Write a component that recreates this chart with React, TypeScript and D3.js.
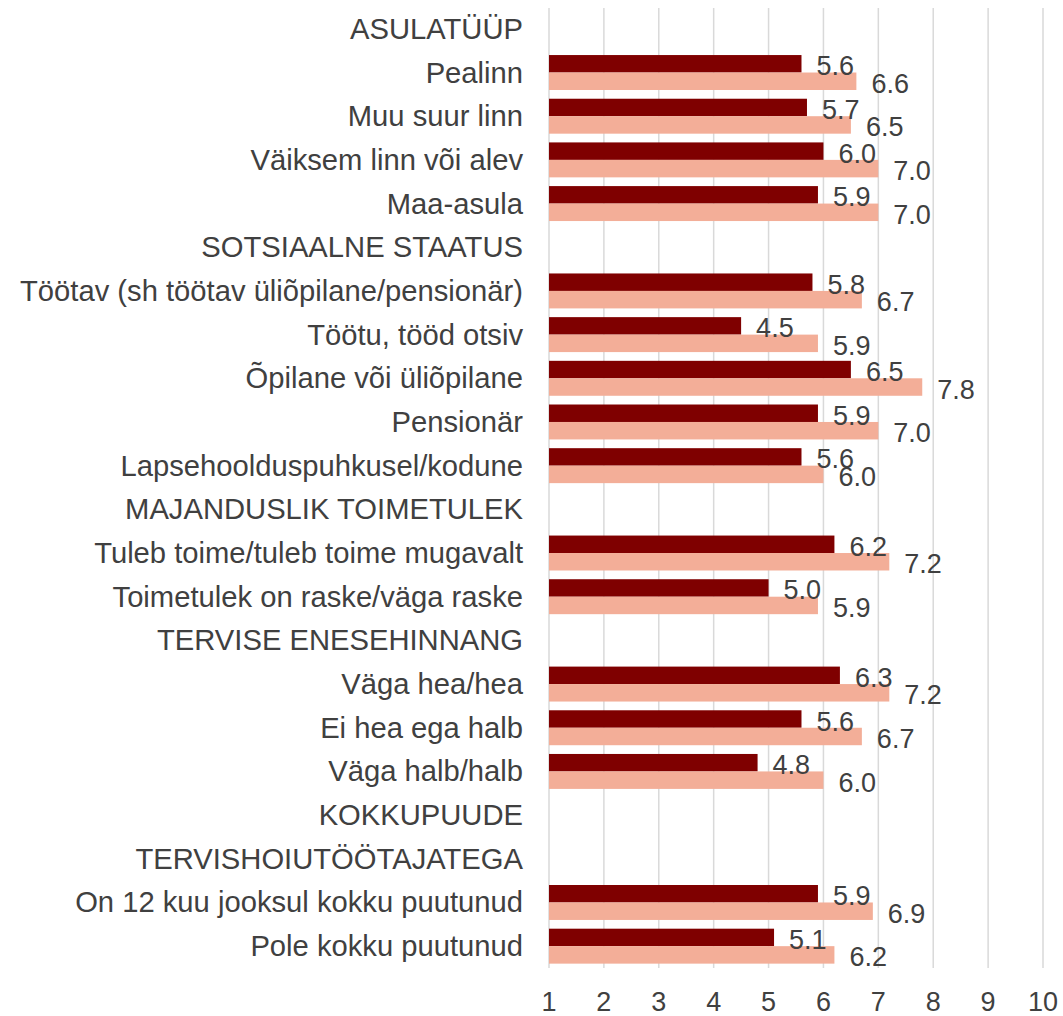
import { useEffect, useRef } from 'react';
import * as d3 from 'd3';

// row labels; header rows have no values
const categories = [
  'ASULATÜÜP',
  'Pealinn',
  'Muu suur linn',
  'Väiksem linn või alev',
  'Maa-asula',
  'SOTSIAALNE STAATUS',
  'Töötav (sh töötav üliõpilane/pensionär)',
  'Töötu, tööd otsiv',
  'Õpilane või üliõpilane',
  'Pensionär',
  'Lapsehoolduspuhkusel/kodune',
  'MAJANDUSLIK TOIMETULEK',
  'Tuleb toime/tuleb toime mugavalt',
  'Toimetulek on raske/väga raske',
  'TERVISE ENESEHINNANG',
  'Väga hea/hea',
  'Ei hea ega halb',
  'Väga halb/halb',
  'KOKKUPUUDE',
  'TERVISHOIUTÖÖTAJATEGA',
  'On 12 kuu jooksul kokku puutunud',
  'Pole kokku puutunud',
];

const seriesA = [null, 5.6, 5.7, 6.0, 5.9, null, 5.8, 4.5, 6.5, 5.9, 5.6, null, 6.2, 5.0, null, 6.3, 5.6, 4.8, null, null, 5.9, 5.1];
const seriesB = [null, 6.6, 6.5, 7.0, 7.0, null, 6.7, 5.9, 7.8, 7.0, 6.0, null, 7.2, 5.9, null, 7.2, 6.7, 6.0, null, null, 6.9, 6.2];

const xTicks = [1, 2, 3, 4, 5, 6, 7, 8, 9, 10];

const App = () => {
  const svgRef = useRef<SVGSVGElement>(null);

  useEffect(() => {
    const width = 1063;
    const height = 1016;
    const font = '"Liberation Sans", Arial, sans-serif';
    const textColor = '#404040';

    const svg = d3.select(svgRef.current);
    svg.selectAll('*').remove();
    svg.attr('width', width).attr('height', height);

    const x = d3.scaleLinear().domain([1, 10]).range([549, 1043]);

    const y = d3.scaleBand<number>()
      .domain(categories.map((_, i) => i))
      .range([7, 968])
      .paddingInner(0.2)
      .paddingOuter(0.1);

    const inner = d3.scaleBand<string>()
      .domain(['a', 'b'])
      .range([0, y.bandwidth()]);

    // gridlines
    svg.append('g')
      .selectAll('line')
      .data(xTicks)
      .join('line')
      .attr('x1', d => x(d))
      .attr('x2', d => x(d))
      .attr('y1', 8)
      .attr('y2', 968)
      .attr('stroke', '#d9d9d9')
      .attr('stroke-width', 1.5);

    const series = [
      { key: 'a', values: seriesA, color: '#7f0000' },
      { key: 'b', values: seriesB, color: '#f3ae98' },
    ].map(s => ({
      ...s,
      rows: s.values
        .map((v, i) => ({ v, i }))
        .filter(d => d.v !== null) as { v: number; i: number }[],
    }));

    const barsG = svg.append('g');
    const labelsG = svg.append('g');

    series.forEach(s => {
      barsG.append('g')
        .selectAll('rect')
        .data(s.rows)
        .join('rect')
        .attr('x', x(1))
        .attr('y', d => (y(d.i) as number) + (inner(s.key) as number))
        .attr('width', d => x(d.v) - x(1))
        .attr('height', inner.bandwidth())
        .attr('fill', s.color);

      // value labels sit on top of every bar
      labelsG.append('g')
        .selectAll('text')
        .data(s.rows)
        .join('text')
        .attr('x', d => x(d.v) + 15)
        .attr('y', d => (y(d.i) as number) + (inner(s.key) as number) + inner.bandwidth() / 2 + 2.5)
        .attr('dominant-baseline', 'central')
        .attr('font-family', font)
        .attr('font-size', 27)
        .attr('fill', textColor)
        .text(d => d.v.toFixed(1));
    });

    // category labels
    svg.append('g')
      .selectAll('text')
      .data(categories)
      .join('text')
      .attr('x', 523)
      .attr('y', (_, i) => (y(i) as number) + y.bandwidth() / 2)
      .attr('text-anchor', 'end')
      .attr('dominant-baseline', 'central')
      .attr('font-family', font)
      .attr('font-size', 29.2)
      .attr('fill', textColor)
      .text(d => d);

    // x tick labels
    svg.append('g')
      .selectAll('text')
      .data(xTicks)
      .join('text')
      .attr('x', d => x(d))
      .attr('y', 1002)
      .attr('text-anchor', 'middle')
      .attr('dominant-baseline', 'central')
      .attr('font-family', font)
      .attr('font-size', 27)
      .attr('fill', textColor)
      .text(d => d);
  }, []);

  return (
    <svg ref={svgRef} style={{ position: 'absolute', left: 0, top: 0, background: '#fff' }}></svg>
  );
};

export default App;
